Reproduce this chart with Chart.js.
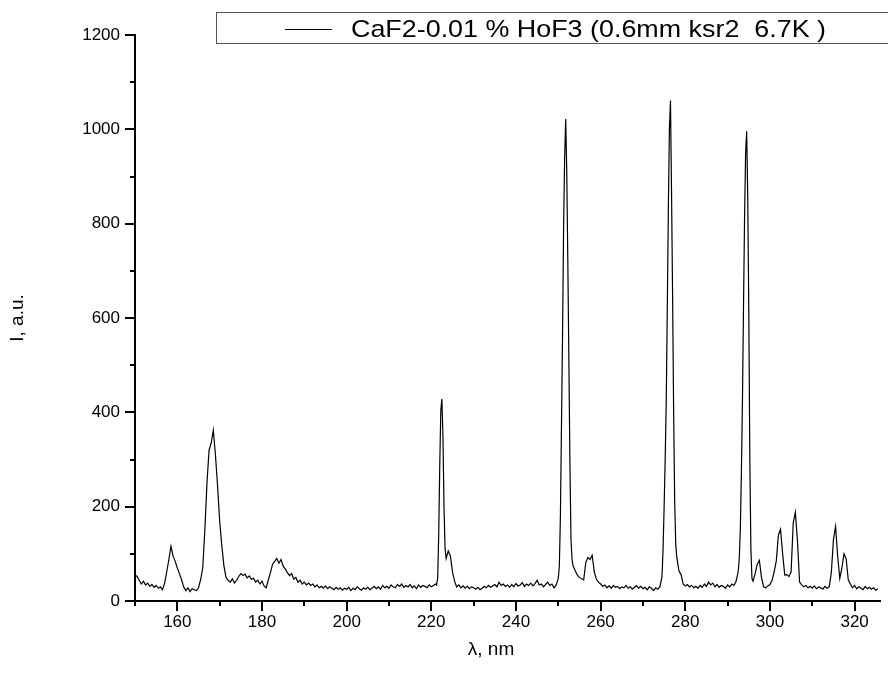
<!DOCTYPE html>
<html>
<head>
<meta charset="utf-8">
<script src="https://cdn.jsdelivr.net/npm/chart.js"></script>
<style>
  html, body { margin: 0; padding: 0; background: #fff; }
</style>
</head>
<body>
<canvas id="spectrum" width="888" height="684"></canvas>
<script>
// wavelength, nm (finer sampling across the narrow lines)
const wavelength = [
  150, 150.5, 151, 151.5, 152, 152.5, 153, 153.5, 154, 154.5,
  155, 155.5, 156, 156.5, 157, 157.5, 158, 158.5, 159, 159.5,
  160, 160.5, 161, 161.5, 162, 162.5, 163, 163.5, 164, 164.5,
  165, 165.5, 166, 166.5, 167, 167.5, 168, 168.5, 169, 169.5,
  170, 170.5, 171, 171.5, 172, 172.5, 173, 173.5, 174, 174.5,
  175, 175.5, 176, 176.5, 177, 177.5, 178, 178.5, 179, 179.5,
  180, 180.5, 181, 181.5, 182, 182.5, 183, 183.5, 184, 184.5,
  185, 185.5, 186, 186.5, 187, 187.5, 188, 188.5, 189, 189.5,
  190, 190.5, 191, 191.5, 192, 192.5, 193, 193.5, 194, 194.5,
  195, 195.5, 196, 196.5, 197, 197.5, 198, 198.5, 199, 199.5,
  200, 200.5, 201, 201.5, 202, 202.5, 203, 203.5, 204, 204.5,
  205, 205.5, 206, 206.5, 207, 207.5, 208, 208.5, 209, 209.5,
  210, 210.5, 211, 211.5, 212, 212.5, 213, 213.5, 214, 214.5,
  215, 215.5, 216, 216.5, 217, 217.5, 218, 218.5, 219, 219.5,
  220, 220.5, 221,
  221.25, 221.5, 221.75, 222, 222.25, 222.5, 222.75, 223, 223.25, 223.5,
  224, 224.5, 225, 225.5, 226, 226.5, 227, 227.5, 228, 228.5,
  229, 229.5, 230, 230.5, 231, 231.5, 232, 232.5, 233, 233.5,
  234, 234.5, 235, 235.5, 236, 236.5, 237, 237.5, 238, 238.5,
  239, 239.5, 240, 240.5, 241, 241.5, 242, 242.5, 243, 243.5,
  244, 244.5, 245, 245.5, 246, 246.5, 247, 247.5, 248, 248.5,
  249, 249.5, 250,
  250.25, 250.5, 250.75, 251, 251.25, 251.5, 251.75, 252, 252.25, 252.5,
  252.75, 253, 253.25, 253.5,
  254, 254.5, 255, 255.5, 256, 256.5, 257, 257.5, 258, 258.5,
  259, 259.5, 260, 260.5, 261, 261.5, 262, 262.5, 263, 263.5,
  264, 264.5, 265, 265.5, 266, 266.5, 267, 267.5, 268, 268.5,
  269, 269.5, 270, 270.5, 271, 271.5, 272, 272.5, 273, 273.5,
  274, 274.5,
  274.75, 275, 275.25, 275.5, 275.75, 276, 276.25, 276.5, 276.75, 277,
  277.25, 277.5, 277.75, 278,
  278.5, 279, 279.5, 280, 280.5, 281, 281.5, 282, 282.5,
  283, 283.5, 284, 284.5, 285, 285.5, 286, 286.5, 287, 287.5,
  288, 288.5, 289, 289.5, 290, 290.5, 291, 291.5, 292, 292.5,
  292.75, 293, 293.25, 293.5, 293.75, 294, 294.25, 294.5, 294.75, 295,
  295.25, 295.5, 295.75, 296,
  296.5, 297, 297.5, 298, 298.5, 299, 299.5, 300, 300.5,
  301, 301.5, 302, 302.5, 303, 303.5, 304, 304.5, 305, 305.5,
  306, 306.5, 307, 307.5, 308, 308.5, 309, 309.5, 310, 310.5,
  311, 311.5, 312, 312.5, 313, 313.5, 314, 314.5, 315, 315.5,
  316, 316.5, 317, 317.5, 318, 318.5, 319, 319.5, 320, 320.5,
  321, 321.5, 322, 322.5, 323, 323.5, 324, 324.5, 325, 325.5
];

// intensity, a.u.
const intensity = [
  55, 52, 44, 36, 42, 34, 38, 31, 35, 29,
  33, 27, 30, 24, 38, 62, 88, 116, 95, 84,
  70, 58, 45, 30, 22, 28, 20, 26, 24, 22,
  28, 45, 70, 150, 250, 320, 335, 362, 310, 245,
  170, 118, 75, 50, 44, 40, 47, 38, 44, 52,
  58, 54, 57, 49, 53, 46, 48, 40, 44, 36,
  42, 32, 28, 45, 60, 78, 84, 90, 80, 88,
  74, 68, 60, 54, 58, 46, 50, 40, 44, 36,
  40, 34, 38, 33, 36, 30, 34, 28, 31, 27,
  32, 26, 30, 27, 24, 29, 25, 28, 23, 27,
  25, 29, 22, 27, 24, 30, 26, 23, 28, 25,
  29, 24, 27, 31, 26, 30, 25, 33, 28, 31,
  27, 34, 30, 28, 35, 31, 36, 29, 33, 30,
  35, 28, 32, 26, 34, 29, 33, 31, 28, 34,
  30, 33, 36,
  34, 48, 140, 290, 405, 428, 350, 200, 112, 90,
  106, 96, 62, 42, 30, 34, 28, 32, 27, 31,
  26, 30, 28, 25, 29, 24, 27, 31, 28, 33,
  29, 32, 35, 30, 40, 33, 36, 31, 34, 29,
  35, 30, 37, 32, 34, 39, 31, 36, 33, 38,
  32, 37, 44, 34, 36, 30, 35, 40, 33, 36,
  28, 34, 48,
  75, 180, 370, 560, 790, 940, 1022, 910, 720, 510,
  290, 130, 88, 74,
  64, 55, 50, 47, 45, 82, 92, 88, 97, 62,
  46, 40, 36, 31, 34, 28, 32, 27, 33, 29,
  31, 26, 30, 28, 33, 27, 30, 25, 29, 32,
  27, 31, 26, 29, 24, 30, 27, 22, 28, 25,
  30, 52,
  110, 200, 300, 420, 620, 830, 1000, 1061, 870, 650,
  400, 210, 120, 92,
  64, 56, 36, 32, 35, 30, 33, 28, 31,
  27, 33, 29, 36, 31, 40, 34, 38, 30, 35,
  29, 33, 31, 27, 34, 30, 36, 33, 42, 62,
  90, 150, 270, 420, 620, 810, 950, 996, 860, 620,
  300, 110, 48, 42,
  58, 78, 86, 50, 30, 28, 32, 35, 44,
  62, 85, 140, 152, 100, 55, 56, 52, 62, 165,
  188, 128, 40, 34, 30, 33, 28, 31, 27, 32,
  26, 30, 28, 25, 31, 27, 30, 60, 130, 158,
  95, 48, 70, 100, 90, 45, 36, 28, 33, 26,
  30, 27, 24, 31, 26, 29, 25, 28, 23, 26
];

const xTicks = [160, 180, 200, 220, 240, 260, 280, 300, 320];
const xMinorTicks = [150, 170, 190, 210, 230, 250, 270, 290, 310];
const yTicks = [0, 200, 400, 600, 800, 1000, 1200];
const yMinorTicks = [100, 300, 500, 700, 900, 1100];
const seriesLabel = 'CaF2-0.01 % HoF3 (0.6mm ksr2  6.7K )';

const FONT = '"Liberation Sans", Arial, sans-serif';

// tick marks, axis titles and the boxed legend
const frame = {
  id: 'frame',
  afterDraw(chart) {
    const ctx = chart.ctx;
    const xs = chart.scales.x;
    const ys = chart.scales.y;
    const area = chart.chartArea;
    ctx.save();
    ctx.strokeStyle = '#000';
    ctx.lineWidth = 2;
    ctx.beginPath();
    xTicks.forEach(v => {
      const px = Math.round(xs.getPixelForValue(v));
      ctx.moveTo(px, area.bottom);
      ctx.lineTo(px, area.bottom + 10);
    });
    xMinorTicks.forEach(v => {
      const px = Math.round(xs.getPixelForValue(v));
      ctx.moveTo(px, area.bottom);
      ctx.lineTo(px, area.bottom + 5);
    });
    yTicks.forEach(v => {
      const py = Math.round(ys.getPixelForValue(v));
      ctx.moveTo(area.left, py);
      ctx.lineTo(area.left - 10, py);
    });
    yMinorTicks.forEach(v => {
      const py = Math.round(ys.getPixelForValue(v));
      ctx.moveTo(area.left, py);
      ctx.lineTo(area.left - 5, py);
    });
    ctx.stroke();

    ctx.fillStyle = '#000';
    ctx.textAlign = 'center';
    ctx.textBaseline = 'middle';
    ctx.font = '19px ' + FONT;
    ctx.fillText('λ, nm', 491, 650);
    ctx.save();
    ctx.translate(18, 318);
    ctx.rotate(-Math.PI / 2);
    ctx.fillText('I, a.u.', 0, 0);
    ctx.restore();

    ctx.lineWidth = 1;
    ctx.strokeStyle = '#555';
    ctx.strokeRect(216.5, 12.5, 700, 31);
    ctx.strokeStyle = '#000';
    ctx.beginPath();
    ctx.moveTo(285, 29.5);
    ctx.lineTo(332, 29.5);
    ctx.stroke();
    // the legend text in the picture runs wider than the font alone gives
    ctx.save();
    ctx.translate(351, 30);
    ctx.scale(1.12, 1);
    ctx.textAlign = 'left';
    ctx.font = '24px ' + FONT;
    ctx.fillText(chart.data.datasets[0].label, 0, 0);
    ctx.restore();
    ctx.restore();
  }
};

const points = wavelength.map((w, i) => ({ x: w, y: intensity[i] }));

new Chart(document.getElementById('spectrum'), {
  type: 'line',
  data: {
    datasets: [{
      label: seriesLabel,
      data: points,
      borderColor: '#000',
      borderWidth: 1.2,
      pointRadius: 0,
      tension: 0,
      fill: false
    }]
  },
  options: {
    responsive: false,
    animation: false,
    layout: { padding: { top: 35, right: 8, left: 0, bottom: 0 } },
    plugins: {
      legend: { display: false },
      tooltip: { enabled: false }
    },
    scales: {
      x: {
        type: 'linear',
        min: 150,
        max: 326,
        grid: { display: false, drawTicks: false },
        border: { display: true, color: '#000', width: 2 },
        afterBuildTicks: scale => { scale.ticks = xTicks.map(v => ({ value: v })); },
        afterFit: scale => { scale.height = 83; },
        ticks: {
          color: '#000',
          padding: 11,
          maxRotation: 0,
          callback: v => String(v),
          font: { family: FONT, size: 17 }
        }
      },
      y: {
        min: 0,
        max: 1200,
        grid: { display: false, drawTicks: false },
        border: { display: true, color: '#000', width: 2 },
        afterBuildTicks: scale => { scale.ticks = yTicks.map(v => ({ value: v })); },
        afterFit: scale => { scale.width = 135; },
        ticks: {
          color: '#000',
          padding: 15,
          callback: v => String(v),
          font: { family: FONT, size: 17 }
        }
      }
    }
  },
  plugins: [frame]
});
</script>
</body>
</html>
